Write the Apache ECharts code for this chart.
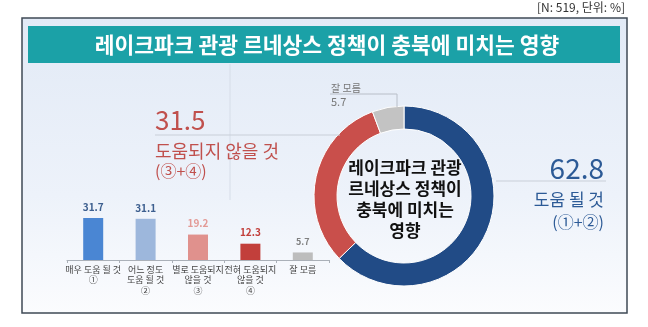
<!DOCTYPE html>
<html><head><meta charset="utf-8">
<script src="https://cdn.jsdelivr.net/npm/echarts@6/dist/echarts.min.js"></script>
<style>html,body{margin:0;padding:0;background:#fff}#c{width:648px;height:327px}</style>
</head><body><div id="c"></div>
<script>
const titleText = '레이크파크 관광 르네상스 정책이 충북에 미치는 영향';
const noteText = '[N: 519, 단위: %]';
const centerText = '레이크파크 관광\n르네상스 정책이\n충북에 미치는\n영향';
const categories = ['매우 도움 될 것\n①', '어느 정도\n도움 될 것\n②', '별로 도움되지\n않을 것\n③', '전혀 도움되지\n않을 것\n④', '잘 모름'];
const barValues = [31.7, 31.1, 19.2, 12.3, 5.7];
const donutNames = ['도움 될 것', '도움되지 않을 것', '잘 모름'];
const donutValues = [62.8, 31.5, 5.7];
const donutSubs = ['(①+②)', '(③+④)', ''];

const F = '"Noto Sans CJK KR","Noto Sans",sans-serif';
const barColors = ['#4a86d3', '#9db7dc', '#e0918d', '#c23f3b', '#bdbdbd'];
const labelColors = ['#3d5f8f', '#3d5f8f', '#e39a96', '#c23f3b', '#808080'];
const donutColors = ['#214b86', '#c94f4b', '#c3c3c3'];

const chart = echarts.init(document.getElementById('c'));
chart.setOption({
  animation: false,
  graphic: [
    {type:'rect', z:-10, shape:{x:22,y:18,width:605,height:295}, style:{fill:new echarts.graphic.LinearGradient(0,0,0,1,[{offset:0,color:'#e2eaf6'},{offset:0.6,color:'#edf2fa'},{offset:1,color:'#fbfcfe'}]), stroke:'#3f4a55', lineWidth:1.5}},
    {type:'rect', z:-9, shape:{x:28,y:26,width:592,height:37}, style:{fill:'#1ba1a7'}},
    {type:'text', z:10, style:{x:327,y:45,text:titleText,fill:'#fff',font:'bold 21.5px '+F,textAlign:'center',textVerticalAlign:'middle'}},
    {type:'text', z:10, style:{x:625,y:7,text:noteText,fill:'#333',font:'12px '+F,textAlign:'right',textVerticalAlign:'middle'}},
    {type:'line', z:-8, shape:{x1:230,y1:64,x2:230,y2:200}, style:{stroke:'#d6dde8',lineWidth:1}},
    // 31.5 group
    {type:'text', z:10, style:{x:155,y:120,text:String(donutValues[1]),fill:'#c0504d',font:'26px '+F,textAlign:'left',textVerticalAlign:'middle'}},
    {type:'line', z:5, shape:{x1:155,y1:135,x2:340,y2:135}, style:{stroke:'#c9cfd8',lineWidth:1}},
    {type:'text', z:10, style:{x:155,y:151,text:donutNames[1],fill:'#c0504d',font:'18px '+F,textAlign:'left',textVerticalAlign:'middle'}},
    {type:'text', z:10, style:{x:155,y:171,text:donutSubs[1],fill:'#c0504d',font:'16px '+F,textAlign:'left',textVerticalAlign:'middle'}},
    // 62.8 group
    {type:'text', z:10, style:{x:604,y:168,text:String(donutValues[0]),fill:'#2c5a96',font:'28px '+F,textAlign:'right',textVerticalAlign:'middle'}},
    {type:'line', z:5, shape:{x1:496,y1:181,x2:606,y2:181}, style:{stroke:'#c9cfd8',lineWidth:1}},
    {type:'text', z:10, style:{x:604,y:200,text:donutNames[0],fill:'#2c5a96',font:'17px '+F,textAlign:'right',textVerticalAlign:'middle'}},
    {type:'text', z:10, style:{x:604,y:222,text:donutSubs[0],fill:'#2c5a96',font:'16px '+F,textAlign:'right',textVerticalAlign:'middle'}},
    // 잘 모름 leader
    {type:'text', z:10, style:{x:331,y:88,text:donutNames[2],fill:'#777',font:'10px '+F,textAlign:'left',textVerticalAlign:'middle'}},
    {type:'text', z:10, style:{x:331,y:102,text:String(donutValues[2]),fill:'#777',font:'11px '+F,textAlign:'left',textVerticalAlign:'middle'}},
    {type:'polyline', z:5, shape:{points:[[330,94],[397,94],[397,107]]}, style:{stroke:'#b8bec8',lineWidth:1,fill:null}},
    // center text
    {type:'text', z:10, style:{x:405,y:199,text:centerText,fill:'#111',font:'bold 17px '+F,lineHeight:21,textAlign:'center',textVerticalAlign:'middle'}}
  ],
  grid: {left:67, width:262, top:207, bottom:67},
  xAxis: {
    type:'category', data:categories,
    axisLine:{show:true, lineStyle:{color:'#aab0b8'}},
    axisTick:{show:true, length:3, lineStyle:{color:'#aab0b8'}},
    axisLabel:{color:'#444', fontSize:9, fontFamily:F, lineHeight:10.5, margin:4, interval:0}
  },
  yAxis: {type:'value', min:0, max:40, show:false},
  series: [
    {type:'bar', barWidth:20,
     data: barValues.map((v,i)=>({value:v, itemStyle:{color:barColors[i]}, label:{color:labelColors[i], fontSize:i===4?9:10}})),
     label:{show:true, position:'top', distance:6, fontWeight:'bold', fontFamily:F}
    },
    {type:'pie', center:[404,196], radius:[67,90], startAngle:90, clockwise:true,
     label:{show:false}, labelLine:{show:false},
     itemStyle:{borderColor:'#fff', borderWidth:1},
     data: donutValues.map((v,i)=>({name:donutNames[i], value:v, itemStyle:{color:donutColors[i]}}))
    }
  ]
});
</script></body></html>
